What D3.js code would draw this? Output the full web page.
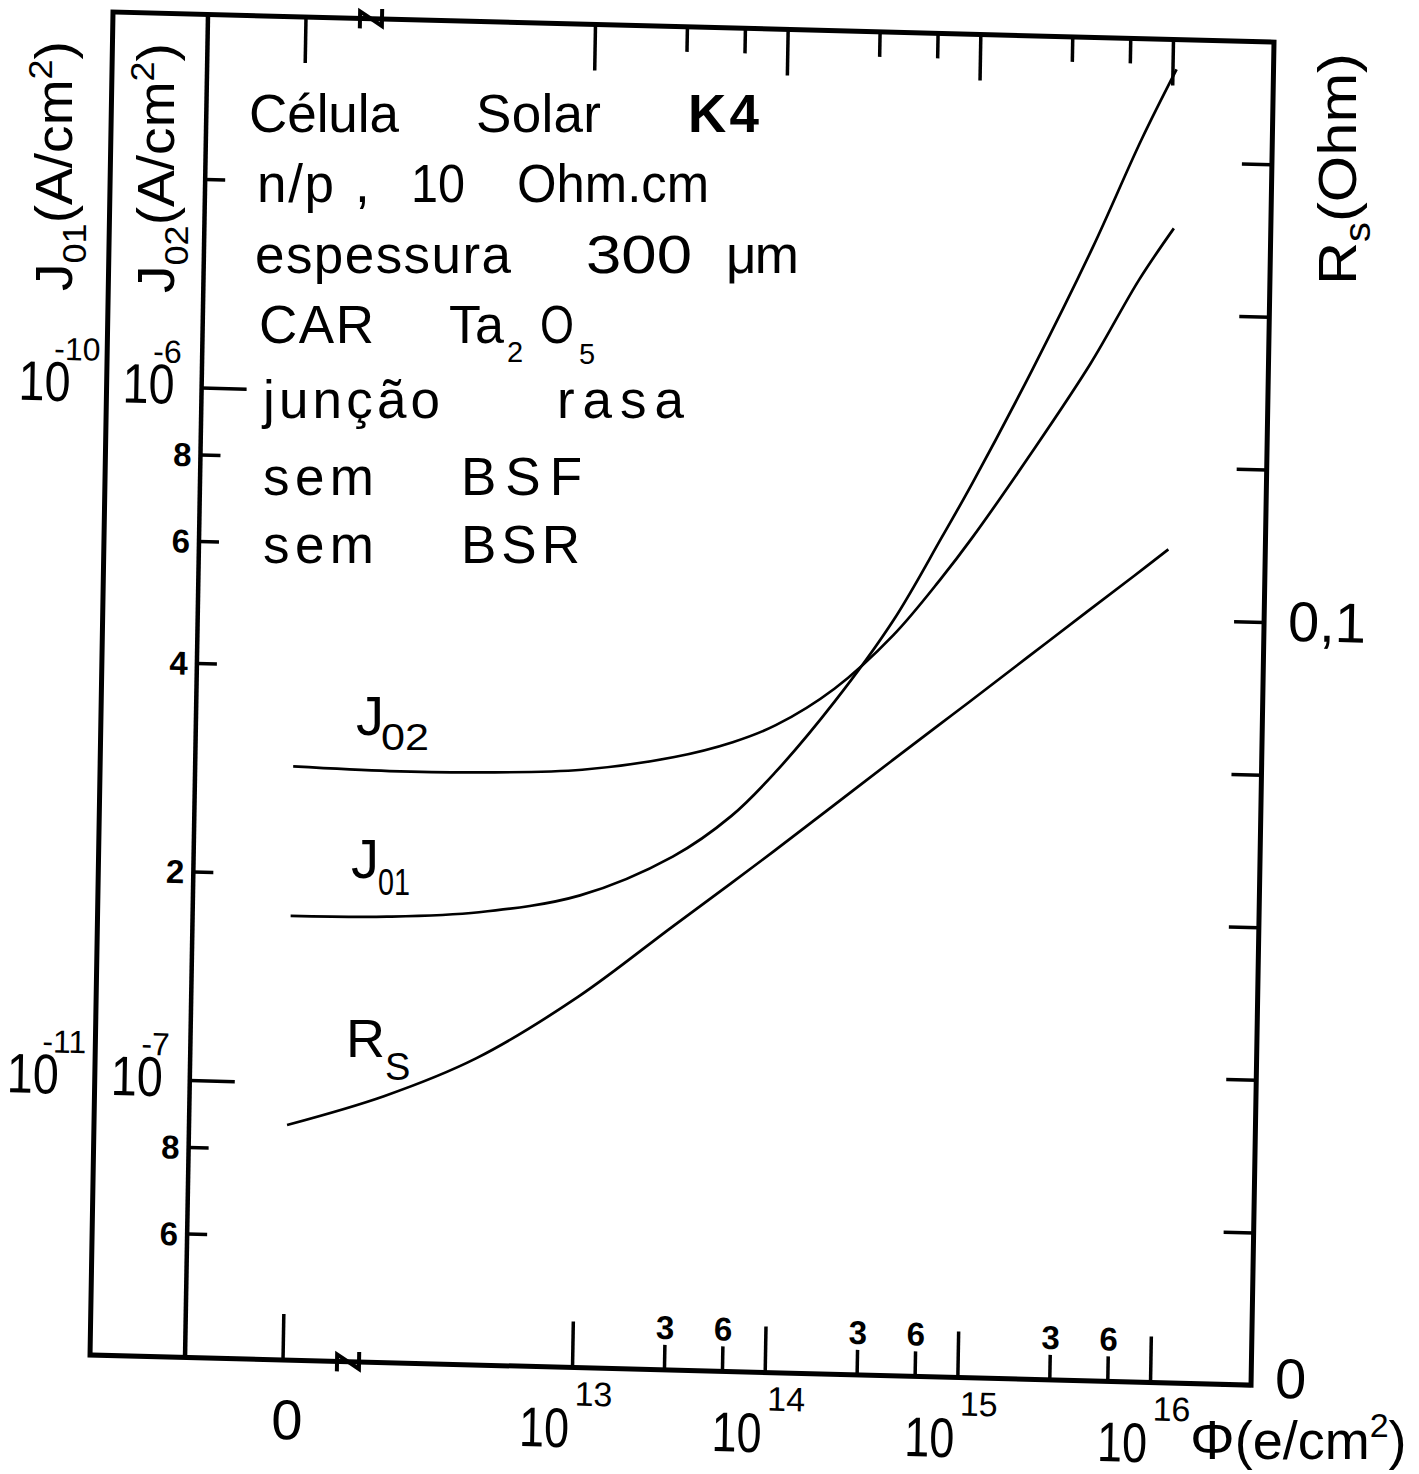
<!DOCTYPE html>
<html>

<head>
    <meta charset="utf-8">
    <title> Célula Solar K4 </title>
    <script src="https://cdnjs.cloudflare.com/ajax/libs/d3/7.8.5/d3.min.js"></script>
    <style>
        html, body {
            margin: 0;
            padding: 0;
            background: #fff;
        }

        svg text {
            font-family: "Liberation Sans", Arial, sans-serif;
            fill: #000;
        }
    </style>
</head>

<body>
    <svg id="chart" width="1419" height="1474"></svg>

    <script>
        // fluence (e/cm2), 0 sits left of the axis break
        const phi = [0, 1e12, 3e12, 1e13, 3e13, 6e13, 1e14, 2e14, 4e14, 7e14, 1e15, 2e15, 4e15, 7e15, 1.05e16];
        // J02 (A/cm2)
        const j02 = [2.86e-7, 2.84e-7, 2.85e-7, 2.90e-7, 3.05e-7, 3.22e-7, 3.42e-7, 3.88e-7, 4.66e-7, 5.65e-7, 6.47e-7, 8.63e-7, 1.17e-6, 1.55e-6, 1.845e-6];
        // J01 (A/cm2)
        const j01 = [1.74e-11, 1.75e-11, 1.79e-11, 1.91e-11, 2.19e-11, 2.52e-11, 2.92e-11, 3.71e-11, 4.90e-11, 6.48e-11, 7.79e-11, 1.142e-10, 1.72e-10, 2.47e-10, 3.13e-10];
        // Rs (Ohm)
        const rs = [0.0308, 0.0349, 0.0402, 0.0486, 0.0580, 0.0639, 0.0683, 0.0744, 0.0805, 0.0854, 0.0885, 0.0946, 0.1007, 0.1056, 0.1092];

        // ticks
        const xDecades = [1e13, 1e14, 1e15, 1e16];
        const xMinor = [3e13, 6e13, 3e14, 6e14, 3e15, 6e15];
        const j02Decades = [1e-7, 1e-6];
        const j01Decades = [1e-11, 1e-10];
        const j02Minor = [6e-8, 8e-8, 2e-7, 4e-7, 6e-7, 8e-7, 2e-6];
        const j02MinorLabels = [6e-8, 8e-8, 2e-7, 4e-7, 6e-7, 8e-7];
        const rsTicks = [0, 0.02, 0.04, 0.06, 0.08, 0.1, 0.12, 0.14, 0.16];
        const rsLabels = [0, 0.1];

        const W = 1161, H = 1343;      // frame size
        const innerAxis = 95;          // J02 axis line

        const svg = d3.select("#chart");
        svg.append("rect").attr("width", 1419).attr("height", 1474).attr("fill", "#fff");

        // the scanned figure sits a bit crooked on the page
        const plot = svg.append("g")
            .attr("transform", "matrix(1,0.0259,-0.0171,1,113,12)");

        const xLog = d3.scaleLog().domain([1e13, 1e16]).range([482, 1060]);
        const xZero = 193;
        const xPos = d => d === 0 ? xZero : xLog(d);
        const yJ02 = d3.scaleLog().domain([1e-7, 1e-6]).range([1065.5, 373]);
        const yJ01 = d3.scaleLog().domain([1e-11, 1e-10]).range([1065.5, 373]);
        const yRs = d3.scaleLinear().domain([0, 0.1]).range([H, 580]);

        const mantissa = d => Math.round(d / Math.pow(10, Math.floor(Math.log10(d) + 1e-9)));
        const expo = d => Math.round(Math.log10(d));

        function styleAxis(g) {
            g.select(".domain").remove();
            g.attr("font-family", null).attr("font-size", null);
            g.selectAll("line").attr("stroke", "#000").attr("stroke-width", 3.5);
            g.selectAll("text")
                .attr("font-size", 33)
                .attr("font-weight", "bold");
        }

        /* frame */
        plot.append("rect")
            .attr("width", W).attr("height", H)
            .attr("fill", "none").attr("stroke", "#000").attr("stroke-width", 5);
        plot.append("line")
            .attr("x1", innerAxis).attr("x2", innerAxis)
            .attr("y1", 0).attr("y2", H)
            .attr("stroke", "#000").attr("stroke-width", 4.5);

        // axis break marks
        const breakAt = 258;
        [0, H].forEach(v => {
            plot.append("path")
                .attr("d", `M${breakAt - 11},${v + 10}V${v - 7}L${breakAt + 11},${v + 7}V${v - 10}`)
                .attr("fill", "none").attr("stroke", "#000").attr("stroke-width", 4);
        });

        /* bottom axis */
        plot.append("g").attr("transform", `translate(0,${H})`)
            .call(d3.axisTop(xLog).tickValues(xDecades).tickSize(46).tickFormat(""))
            .call(styleAxis);
        plot.append("g").attr("transform", `translate(0,${H})`)
            .call(d3.axisTop(xLog).tickValues(xMinor).tickSize(25).tickPadding(6).tickFormat(mantissa))
            .call(styleAxis);

        /* top axis */
        plot.append("g")
            .call(d3.axisBottom(xLog).tickValues(xDecades).tickSize(46).tickFormat(""))
            .call(styleAxis);
        plot.append("g")
            .call(d3.axisBottom(xLog).tickValues(xMinor).tickSize(25).tickFormat(""))
            .call(styleAxis);

        // the zero tick, top and bottom
        [[H, H - 46], [0, 46]].forEach(([a, b]) => {
            plot.append("line")
                .attr("x1", xPos(0)).attr("x2", xPos(0))
                .attr("y1", a).attr("y2", b)
                .attr("stroke", "#000").attr("stroke-width", 3.5);
        });

        // decade labels under the axis
        const xLab = plot.append("g");
        xLab.selectAll(".ten")
            .data(xDecades)
            .join("text")
            .attr("class", "ten")
            .attr("x", d => xLog(d) - 2)
            .attr("y", H + 80)
            .attr("text-anchor", "end")
            .attr("font-size", 56)
            .attr("textLength", 50)
            .attr("lengthAdjust", "spacingAndGlyphs")
            .text("10");
        xLab.selectAll(".exp")
            .data(xDecades)
            .join("text")
            .attr("class", "exp")
            .attr("x", d => xLog(d) + 3)
            .attr("y", H + 38)
            .attr("font-size", 34)
            .text(expo);
        xLab.append("text")
            .attr("x", xPos(0) + 5)
            .attr("y", H + 79)
            .attr("text-anchor", "middle")
            .attr("font-size", 56)
            .text("0");

        /* left J02 axis */
        plot.append("g").attr("transform", `translate(${innerAxis},0)`)
            .call(d3.axisRight(yJ02).tickValues(j02Decades).tickSize(45).tickFormat(""))
            .call(styleAxis);
        plot.append("g").attr("transform", `translate(${innerAxis},0)`)
            .call(d3.axisRight(yJ02).tickValues(j02Minor).tickSize(20).tickFormat(""))
            .call(styleAxis);

        plot.append("g")
            .selectAll("text")
            .data(j02MinorLabels)
            .join("text")
            .attr("x", innerAxis - 9)
            .attr("y", d => yJ02(d) + 12)
            .attr("text-anchor", "end")
            .attr("font-size", 33)
            .attr("font-weight", "bold")
            .text(mantissa);

        // 10^n labels for both J scales
        function decadeLabels(vals, scale, u0, supShift) {
            const g = plot.append("g");
            g.selectAll(".ten")
                .data(vals)
                .join("text")
                .attr("class", "ten")
                .attr("x", u0)
                .attr("y", d => scale(d) + 17)
                .attr("font-size", 56)
                .attr("textLength", 52)
                .attr("lengthAdjust", "spacingAndGlyphs")
                .text("10");
            g.selectAll(".exp")
                .data(vals)
                .join("text")
                .attr("class", "exp")
                .attr("x", u0 + supShift)
                .attr("y", d => scale(d) - 24)
                .attr("font-size", 32)
                .text(d => "-" + Math.abs(expo(d)));
        }
        decadeLabels(j02Decades, yJ02, 16, 30);
        decadeLabels(j01Decades, yJ01, -88, 35);

        /* right Rs axis */
        plot.append("g").attr("transform", `translate(${W},0)`)
            .call(d3.axisLeft(yRs).tickValues(rsTicks).tickSize(30).tickFormat(""))
            .call(styleAxis);
        plot.append("g")
            .selectAll("text")
            .data(rsLabels)
            .join("text")
            .attr("x", W + 24)
            .attr("y", d => yRs(d) + (d === 0 ? 12 : 18))
            .attr("font-size", 56)
            .text(d => d === 0 ? "0" : String(d).replace(".", ","));

        /* curves */
        function curve(vals, scale) {
            return d3.line()
                .x((d, i) => xPos(phi[i]))
                .y(d => scale(d))
                .curve(d3.curveCatmullRom.alpha(0.5))(vals);
        }
        [[j02, yJ02], [j01, yJ01], [rs, yRs]].forEach(([vals, scale]) => {
            plot.append("path")
                .attr("d", curve(vals, scale))
                .attr("fill", "none")
                .attr("stroke", "#000")
                .attr("stroke-width", 2.7);
        });

        /* text written on the page (level, not following the frame) */
        const page = svg.append("g");

        function word(x, y, str, opts) {
            const t = page.append("text")
                .attr("x", x).attr("y", y)
                .attr("font-size", (opts && opts.size) || 53)
                .text(str);
            if (opts && opts.len) t.attr("textLength", opts.len).attr("lengthAdjust", opts.adjust || "spacing");
            if (opts && opts.bold) t.attr("font-weight", "bold");
            return t;
        }

        word(249, 132, "Célula", { len: 150 });
        word(476, 132, "Solar", { len: 125 });
        word(688, 132, "K4", { len: 71, bold: true });

        word(257, 202, "n/p", { len: 77 });
        word(355, 202, ",");
        word(411, 202, "10", { len: 54, adjust: "spacingAndGlyphs" });
        word(517, 202, "Ohm.cm", { len: 192, adjust: "spacingAndGlyphs" });

        word(255, 273, "espessura", { len: 256 });
        word(586, 273, "300", { len: 106, adjust: "spacingAndGlyphs" });
        word(726, 273, "μm", { len: 73 });

        word(259, 343, "CAR", { len: 115 });
        word(449, 343, "Ta", { len: 55, adjust: "spacingAndGlyphs" });
        word(507, 362, "2", { size: 29 });
        word(540, 343, "O", { len: 34, adjust: "spacingAndGlyphs" });
        word(579, 364, "5", { size: 29 });

        word(263, 418, "junção", { len: 177 });
        word(557, 418, "rasa", { len: 127 });

        word(263, 495, "sem", { len: 111 });
        word(461, 495, "BSF", { len: 121 });

        word(263, 563, "sem", { len: 111 });
        word(461, 563, "BSR", { len: 119 });

        // curve names
        word(356, 735, "J", { size: 56 });
        word(381, 750, "02", { size: 37, len: 48, adjust: "spacingAndGlyphs" });
        word(351, 878, "J", { size: 56 });
        word(378, 895, "01", { size: 36, len: 32, adjust: "spacingAndGlyphs" });
        word(346, 1057, "R", { size: 54 });
        word(385, 1080, "S", { size: 38 });

        // axis titles
        function title(x, y, rot, len, parts) {
            const t = page.append("text")
                .attr("transform", `translate(${x},${y}) rotate(${rot})`);
            if (len) t.attr("textLength", len).attr("lengthAdjust", "spacingAndGlyphs");
            parts.forEach(p => {
                t.append("tspan")
                    .attr("font-size", p[1])
                    .attr("dy", p[2] || 0)
                    .text(p[0]);
            });
        }
        title(72, 291, -90, 250, [["J", 52], ["01", 34, 14], ["(A/cm", 52, -14], ["2", 34, -20], [")", 52, 20]]);
        title(174, 293, -90, 250, [["J", 52], ["02", 34, 14], ["(A/cm", 52, -14], ["2", 34, -20], [")", 52, 20]]);
        title(1356, 285, -90, 232, [["R", 54], ["s", 36, 14], ["(Ohm)", 54, -14]]);
        title(1190, 1459, 0, 0, [["Φ", 56], ["(e/cm", 54], ["2", 34, -22], [")", 54, 22]]);
    </script>

</body>

</html>
